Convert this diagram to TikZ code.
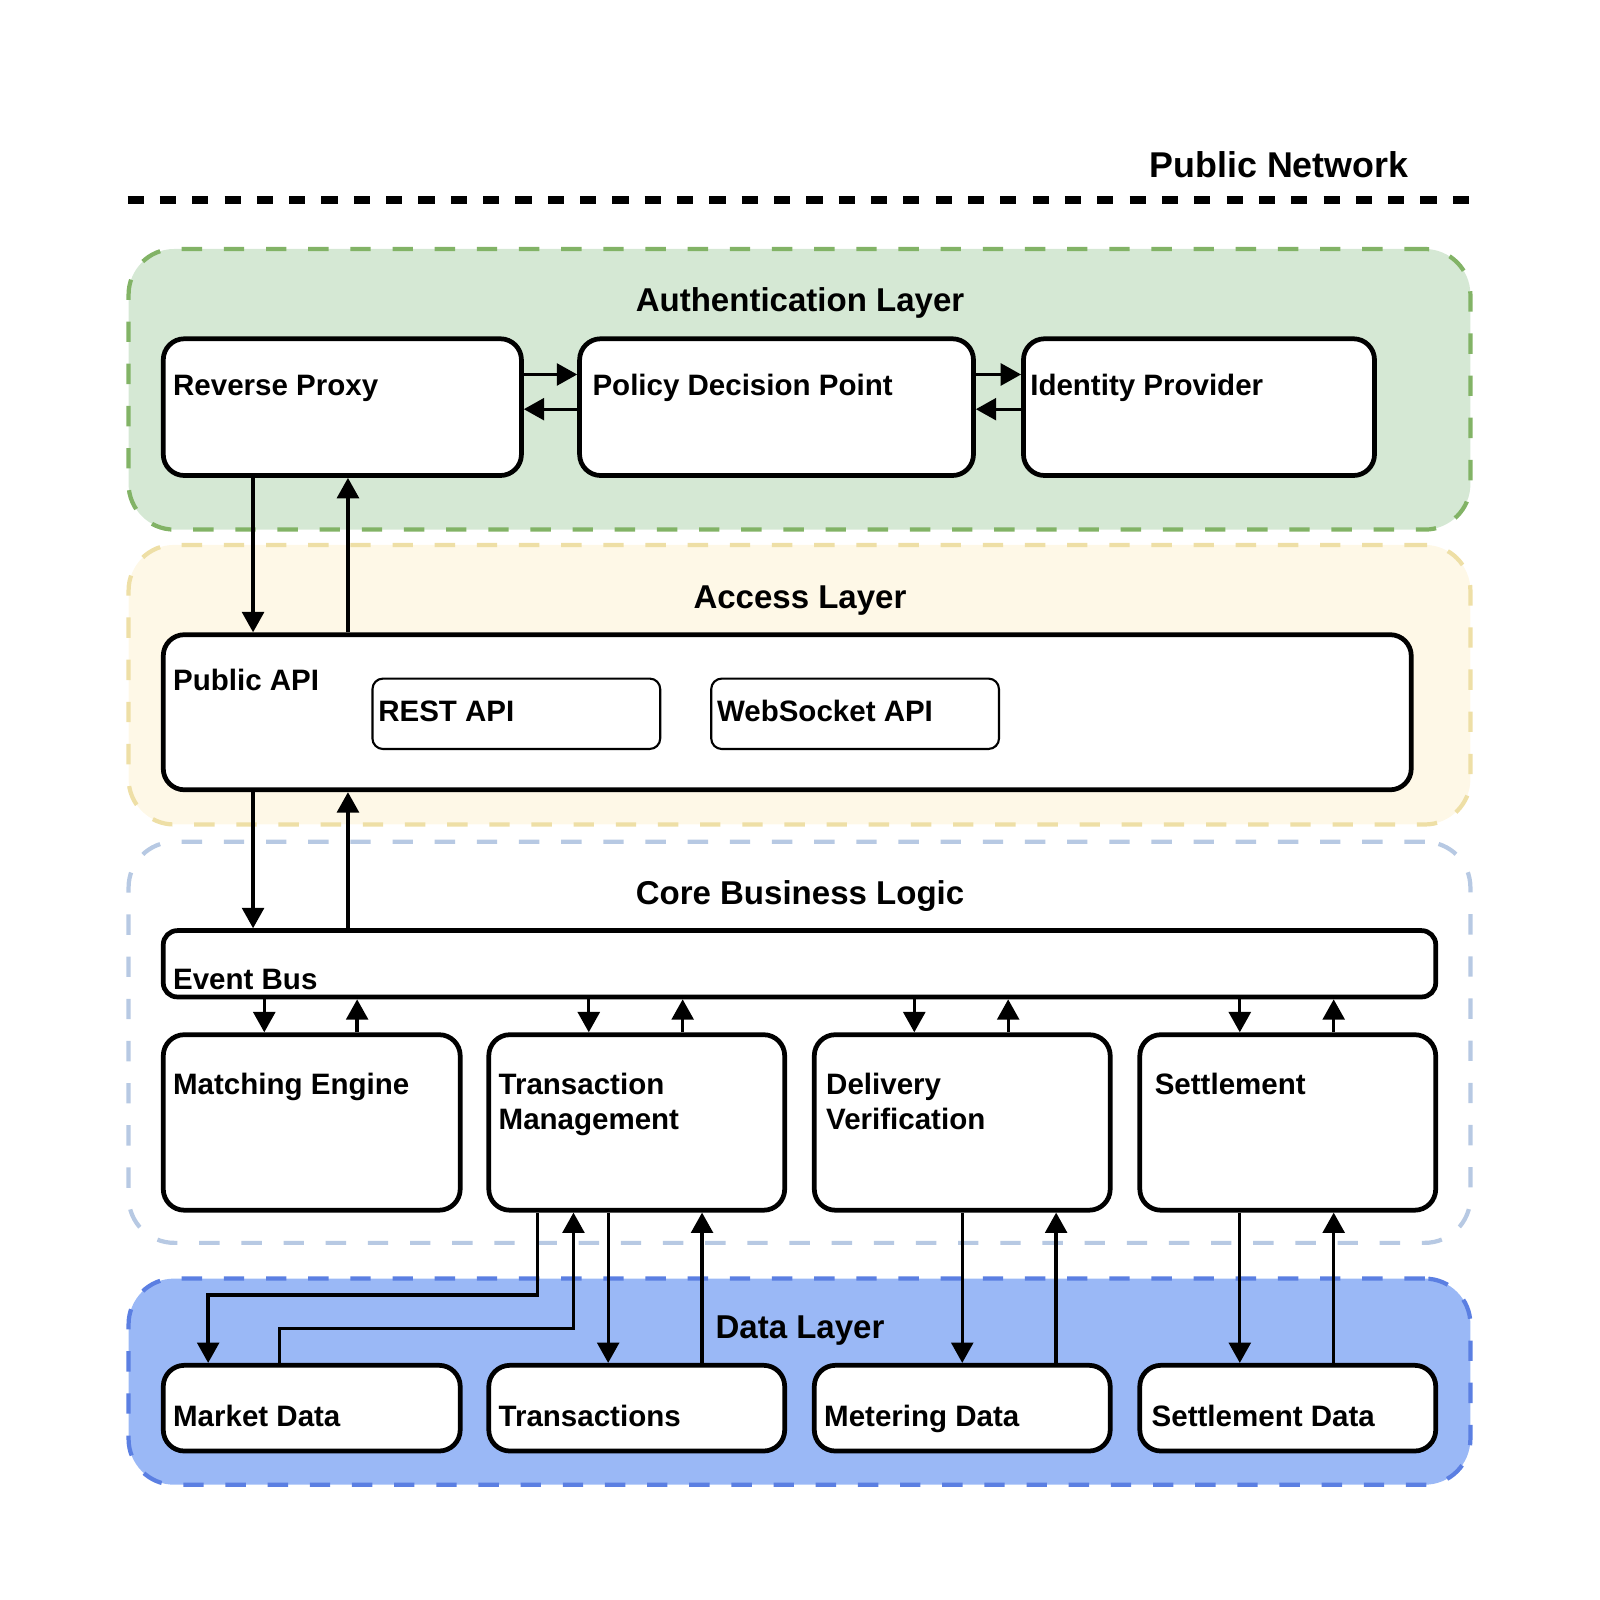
\documentclass[tikz,border=0pt]{standalone}
\usepackage{fontspec}
\setmainfont{Liberation Sans}
\usetikzlibrary{arrows.meta,fit,calc}
\definecolor{authfill}{HTML}{D5E8D4}
\definecolor{authline}{HTML}{82B366}
\definecolor{accfill}{HTML}{FEF8E7}
\definecolor{accline}{HTML}{EEDFA6}
\definecolor{coreline}{HTML}{B7C9E3}
\definecolor{datafill}{HTML}{9AB8F6}
\definecolor{dataline}{HTML}{5B7FE2}
\tikzset{
  layer/.style={inner sep=0pt, line width=1.2pt, rounded corners=13pt, dash pattern=on 5.8pt off 6.2pt},
  box/.style={draw=black, fill=white, inner sep=0pt, line width=1.35pt, rounded corners=6pt},
  sub/.style={draw=black, fill=white, inner sep=0pt, line width=0.6pt, rounded corners=3pt},
  lbl/.style={inner sep=0pt, anchor=base west, font=\fontsize{8.4}{10}\selectfont\bfseries, align=left},
  ttl/.style={inner sep=0pt, anchor=base, font=\fontsize{9.4}{11}\selectfont\bfseries},
  arr/.style={line width=0.95pt, -{Triangle[length=5.8pt,width=6.2pt]}},
}
\begin{document}
\begin{tikzpicture}[x=0.010204cm, y=-0.010204cm]
\useasboundingbox (0,0) rectangle (1568,1568);
% public network
\node[inner sep=0pt, anchor=base east, font=\fontsize{10.2}{12}\selectfont\bfseries] (pubnet) at (1381,174) {Public Network};
\coordinate (nl) at (125,196);
\coordinate (nr) at (1443,196);
\draw[line width=2pt, dash pattern=on 4.6pt off 4.6pt] (nl) -- (nr);
% layers
\node[layer, draw=authline, fill=authfill, fit={(126,244) (1441,519)}] (auth) {};
\node[layer, draw=accline, fill=accfill, fit={(126,534) (1441,808)}] (access) {};
\node[layer, draw=coreline, fill=white, fit={(126,825) (1441,1218)}] (core) {};
\node[layer, draw=dataline, fill=datafill, fit={(126,1253) (1441,1455)}] (data) {};
\node[ttl] (tauth) at (784,305) {Authentication Layer};
\node[ttl] (tacc) at (784,596) {Access Layer};
\node[ttl] (tcore) at (784,886) {Core Business Logic};
\node[ttl] (tdata) at (784,1312) {Data Layer};
% boxes
\node[box, fit={(160,332) (511,466)}] (rp) {};
\node[box, fit={(568,332) (954,466)}] (pdp) {};
\node[box, fit={(1003,332) (1347,466)}] (idp) {};
\node[box, fit={(160,622) (1383,774)}] (papi) {};
\node[sub, fit={(365,665) (647,734)}] (rest) {};
\node[sub, fit={(697,665) (979,734)}] (ws) {};
\node[box, rounded corners=4pt, fit={(160,912) (1407,977)}] (bus) {};
\node[box, fit={(160,1014) (451,1186)}] (me) {};
\node[box, fit={(479,1014) (769,1186)}] (tm) {};
\node[box, fit={(798,1014) (1088,1186)}] (dv) {};
\node[box, fit={(1117,1014) (1407,1186)}] (st) {};
\node[box, fit={(160,1338) (451,1422)}] (md) {};
\node[box, fit={(479,1338) (769,1422)}] (tx) {};
\node[box, fit={(798,1338) (1088,1422)}] (mt) {};
\node[box, fit={(1117,1338) (1407,1422)}] (sd) {};
% labels
\node[lbl] (lrp) at (169,388) {Reverse Proxy};
\node[lbl] (lpdp) at (580,388) {Policy Decision Point};
\node[lbl] (lidp) at (1009,388) {Identity Provider};
\node[lbl] (lpapi) at (169,677) {Public API};
\node[lbl] (lrest) at (370,707) {REST API};
\node[lbl] (lws) at (702,707) {WebSocket API};
\node[lbl] (lbus) at (169,970) {Event Bus};
\node[lbl] (lme) at (169,1073) {Matching Engine};
\node[lbl] (ltm1) at (488,1073) {Transaction};
\node[lbl] (ltm2) at (488,1107) {Management};
\node[lbl] (ldv1) at (809,1073) {Delivery};
\node[lbl] (ldv2) at (809,1107) {Verification};
\node[lbl] (lst) at (1131,1073) {Settlement};
\node[lbl] (lmd) at (169,1398) {Market Data};
\node[lbl] (ltx) at (488,1398) {Transactions};
\node[lbl] (lmt) at (807,1398) {Metering Data};
\node[lbl] (lsd) at (1128,1398) {Settlement Data};
% helper coordinates
\coordinate (y367) at (0,367);
\coordinate (y401) at (0,401);
\foreach \x in {204,248,259,274,341,350,527,562,577,596,669,688,896,943,988,1035,1215,1307}{
  \coordinate (x\x) at (\x,0);
}
\coordinate (y1269) at (0,1269);
\coordinate (y1302) at (0,1302);
% auth arrows
\draw[arr] (rp.east |- y367) -- (pdp.west |- y367);
\draw[arr] (pdp.west |- y401) -- (rp.east |- y401);
\draw[arr] (pdp.east |- y367) -- (idp.west |- y367);
\draw[arr] (idp.west |- y401) -- (pdp.east |- y401);
% vertical
\draw[arr] (rp.south -| x248) -- (papi.north -| x248);
\draw[arr] (papi.north -| x341) -- (rp.south -| x341);
\draw[arr] (papi.south -| x248) -- (bus.north -| x248);
\draw[arr] (bus.north -| x341) -- (papi.south -| x341);
% bus to services
\draw[arr] (bus.south -| x259) -- (me.north -| x259);
\draw[arr] (me.north -| x350) -- (bus.south -| x350);
\draw[arr] (bus.south -| x577) -- (tm.north -| x577);
\draw[arr] (tm.north -| x669) -- (bus.south -| x669);
\draw[arr] (bus.south -| x896) -- (dv.north -| x896);
\draw[arr] (dv.north -| x988) -- (bus.south -| x988);
\draw[arr] (bus.south -| x1215) -- (st.north -| x1215);
\draw[arr] (st.north -| x1307) -- (bus.south -| x1307);
% data connectors
\draw[arr] (tm.south -| x527) -- (x527 |- y1269) -| (md.north -| x204);
\draw[arr] (md.north -| x274) -- (x274 |- y1302) -| (tm.south -| x562);
\draw[arr] (tm.south -| x596) -- (tx.north -| x596);
\draw[arr] (tx.north -| x688) -- (tm.south -| x688);
\draw[arr] (dv.south -| x943) -- (mt.north -| x943);
\draw[arr] (mt.north -| x1035) -- (dv.south -| x1035);
\draw[arr] (st.south -| x1215) -- (sd.north -| x1215);
\draw[arr] (sd.north -| x1307) -- (st.south -| x1307);
\end{tikzpicture}
\end{document}
